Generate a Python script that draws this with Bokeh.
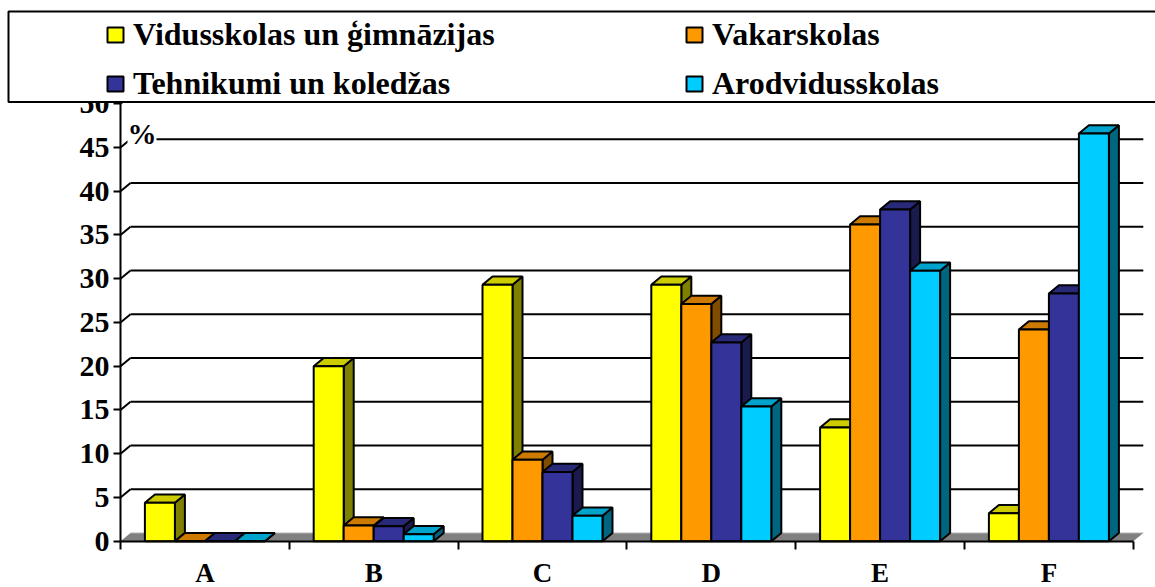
from bokeh.plotting import figure
from bokeh.models import (Range1d, FixedTicker, ColumnDataSource, Legend, LegendItem,
                          Label, BoxAnnotation)
from bokeh.embed import file_html
from bokeh.resources import INLINE

# ---------------- data ----------------
CATEGORIES = ["A", "B", "C", "D", "E", "F"]
SERIES = ["Vidusskolas un ģimnāzijas", "Vakarskolas", "Tehnikumi un koledžas", "Arodvidusskolas"]
VIDUSSKOLAS = [4.4, 20.0, 29.3, 29.3, 13.0, 3.2]
VAKARSKOLAS = [0.0, 1.8, 9.3, 27.1, 36.2, 24.2]
TEHNIKUMI = [0.0, 1.7, 7.9, 22.7, 37.9, 28.3]
ARODVIDUSSKOLAS = [0.0, 0.8, 2.9, 15.4, 30.9, 46.6]
Y_TICKS = [0, 5, 10, 15, 20, 25, 30, 35, 40, 45, 50]
UNIT_LABEL = "%"

# ---------------- style / layout ----------------
FRONT = ["#FFFF00", "#FF9900", "#333399", "#00CCFF"]
TOPC = ["#CCCC00", "#CC7A00", "#29297A", "#00A3CC"]
SIDE = ["#808000", "#804C00", "#1A1A4D", "#006680"]
FONT = "Liberation Serif"

W, H = 1155, 587
X0_PX, CAT_PX = 120.0, 168.8     # screen x of the value axis, px per category
Y0_PX, VAL_PX = 540.7, 8.75      # screen y of zero, px per percent
N = len(CATEGORIES)
Y_MAX = 50
DX = 10 / CAT_PX                 # 3D depth, horizontal
DY = 8.3 / VAL_PX                # 3D depth, vertical
BAR_W = 30 / CAT_PX


def sx(px):
    return (px - X0_PX) / CAT_PX


def sy(py):
    return (Y0_PX - py) / VAL_PX


p = figure(width=W, height=H,
           x_range=Range1d(sx(0), sx(W)), y_range=Range1d(sy(H), sy(0)),
           output_backend="svg", toolbar_location=None,
           min_border=0, min_border_left=0, min_border_right=0,
           min_border_top=0, min_border_bottom=0)
p.title.visible = False
p.outline_line_color = None
p.grid.visible = False
p.background_fill_color = "white"
p.border_fill_color = "white"

# floor
p.patch([0, N, N + DX, DX], [0, 0, DY, DY], fill_color="#808080", line_color=None)
p.line([DX, N + DX], [DY, DY], line_color="#C0C0C0", line_width=1)

# back-wall gridlines and left-wall diagonals
grid_vals = Y_TICKS[1:]
p.segment(x0=[DX] * len(grid_vals), y0=[v + DY for v in grid_vals],
          x1=[N + DX] * len(grid_vals), y1=[v + DY for v in grid_vals],
          line_color="black", line_width=2)
p.segment(x0=[0] * len(grid_vals), y0=grid_vals,
          x1=[DX] * len(grid_vals), y1=[v + DY for v in grid_vals],
          line_color="black", line_width=2)

# bars (side, top, front faces)
DATA = [VIDUSSKOLAS, VAKARSKOLAS, TEHNIKUMI, ARODVIDUSSKOLAS]
front_renderers = []
for i, vals in enumerate(DATA):
    centers = [j + 0.5 + (i - 1.5) * BAR_W for j in range(N)]
    lefts = [c - BAR_W / 2 for c in centers]
    rights = [c + BAR_W / 2 for c in centers]
    side_xs = [[r, r + DX, r + DX, r] for r in rights]
    side_ys = [[0, DY, v + DY, v] for v in vals]
    top_xs = [[l, r, r + DX, l + DX] for l, r in zip(lefts, rights)]
    top_ys = [[v, v, v + DY, v + DY] for v in vals]
    p.patches(side_xs, side_ys, fill_color=SIDE[i], line_color="black", line_width=2)
    p.patches(top_xs, top_ys, fill_color=TOPC[i], line_color="black", line_width=2)
    src = ColumnDataSource(dict(x=centers, top=vals))
    r = p.vbar(x="x", top="top", bottom=0, width=BAR_W, source=src,
               fill_color=FRONT[i], line_color="black", line_width=2)
    front_renderers.append(r)

# value axis
yax = p.yaxis[0]
yax.fixed_location = 0
yax.ticker = FixedTicker(ticks=Y_TICKS)
yax.bounds = (0, Y_MAX)
yax.axis_line_width = 2
yax.axis_line_color = "black"
yax.major_tick_out = 7
yax.major_tick_in = 0
yax.major_tick_line_width = 2
yax.minor_tick_line_color = None
yax.major_label_text_font = FONT
yax.major_label_text_font_style = "bold"
yax.major_label_text_font_size = "30px"
yax.major_label_text_color = "black"
yax.major_label_standoff = 4

# category axis (labels at centres, tick marks at boundaries)
centers_cat = [j + 0.5 for j in range(N)]
xax = p.xaxis[0]
xax.fixed_location = 0
xax.ticker = FixedTicker(ticks=centers_cat, minor_ticks=list(range(N + 1)))
xax.major_label_overrides = {c: lab for c, lab in zip(centers_cat, CATEGORIES)}
xax.bounds = (0, N)
xax.axis_line_width = 2
xax.axis_line_color = "black"
xax.major_tick_out = 0
xax.major_tick_in = 0
xax.major_tick_line_color = None
xax.minor_tick_out = 8
xax.minor_tick_in = 0
xax.minor_tick_line_width = 2
xax.minor_tick_line_color = "black"
xax.major_label_text_font = FONT
xax.major_label_text_font_style = "bold"
xax.major_label_text_font_size = "27px"
xax.major_label_text_color = "black"
xax.major_label_standoff = 9

# % label
p.add_layout(Label(x=sx(127), y=sy(133), text=UNIT_LABEL, text_font=FONT, text_font_style="bold",
                   text_font_size="29px", text_color="black", text_baseline="middle",
                   background_fill_color="white"))

# legend box
p.add_layout(BoxAnnotation(left=sx(8), right=sx(W + 200), top=sy(11), bottom=sy(101.5),
                           fill_color="white", fill_alpha=1.0,
                           line_color="black", line_width=2, line_alpha=1.0))

legend = Legend(items=[LegendItem(label=s, renderers=[r]) for s, r in zip(SERIES, front_renderers)],
                orientation="horizontal", ncols=2,
                location=(105, H - 101.5), margin=0, padding=0, spacing=12,
                glyph_width=20, glyph_height=19, label_width=539, label_height=37,
                label_standoff=8, border_line_color=None, background_fill_alpha=0,
                label_text_font=FONT, label_text_font_style="bold",
                label_text_font_size="32px", label_text_color="black")
p.add_layout(legend, "center")

open("out.html", "w").write(file_html(p, INLINE))
